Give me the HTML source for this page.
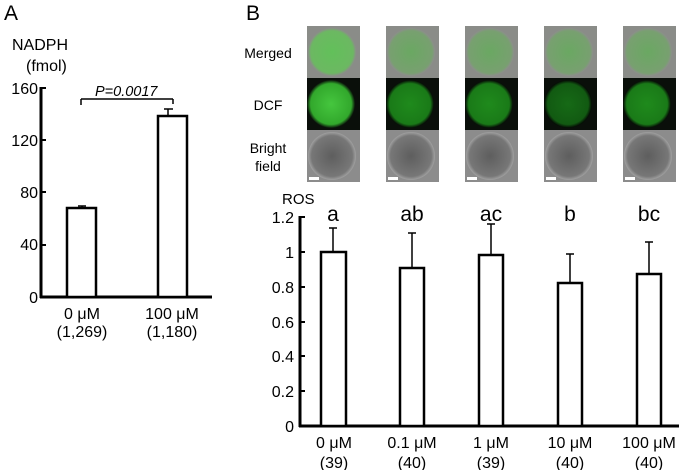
<!DOCTYPE html>
<html><head><meta charset="utf-8"><style>
html,body{margin:0;padding:0;background:#fff;width:685px;height:470px;overflow:hidden}
svg{display:block;font-family:"Liberation Sans",Arial,sans-serif}
</style></head><body>
<svg width="685" height="470" viewBox="0 0 685 470" xmlns="http://www.w3.org/2000/svg">
<defs>
<radialGradient id="gm" cx="50%" cy="50%" r="50%"><stop offset="0" stop-color="#62c05a"/><stop offset="0.88" stop-color="#6cb862"/><stop offset="1" stop-color="#8a8f88"/></radialGradient>
<radialGradient id="gm2" cx="50%" cy="50%" r="50%"><stop offset="0" stop-color="#6aa862"/><stop offset="0.88" stop-color="#78a070"/><stop offset="1" stop-color="#8c8f8b"/></radialGradient>
<radialGradient id="gd1" cx="50%" cy="50%" r="50%"><stop offset="0" stop-color="#45c63e"/><stop offset="0.85" stop-color="#32a82c"/><stop offset="1" stop-color="#0a150a"/></radialGradient>
<radialGradient id="gd2" cx="50%" cy="50%" r="50%"><stop offset="0" stop-color="#1f8a1c"/><stop offset="0.85" stop-color="#1a7a18"/><stop offset="1" stop-color="#050a05"/></radialGradient>
<radialGradient id="gd3" cx="50%" cy="50%" r="50%"><stop offset="0" stop-color="#166a16"/><stop offset="0.85" stop-color="#125a12"/><stop offset="1" stop-color="#040804"/></radialGradient>
<radialGradient id="gb" cx="50%" cy="50%" r="50%"><stop offset="0" stop-color="#5e5e5e"/><stop offset="0.85" stop-color="#777"/><stop offset="1" stop-color="#a0a0a0"/></radialGradient>
</defs>
<text x="4" y="20" font-size="21">A</text>
<text x="246" y="20" font-size="21">B</text>
<!-- Panel A -->
<text x="12" y="50" font-size="16">NADPH</text>
<text x="26" y="71" font-size="16">(fmol)</text>
<g font-size="16" text-anchor="end">
<text x="38" y="94">160</text><text x="38" y="146">120</text><text x="38" y="198">80</text><text x="38" y="250">40</text><text x="38" y="303">0</text>
</g>
<g stroke="#000" stroke-width="3" fill="none">
<line x1="41" y1="87" x2="41" y2="298"/><line x1="40" y1="297" x2="212" y2="297"/>
</g>
<g stroke="#000" stroke-width="2">
<line x1="41" y1="88" x2="46" y2="88"/><line x1="41" y1="140" x2="46" y2="140"/><line x1="41" y1="192" x2="46" y2="192"/><line x1="41" y1="245" x2="46" y2="245"/>
</g>
<g stroke="#000" stroke-width="1.5"><line x1="82" y1="208" x2="82" y2="206"/><line x1="78" y1="206" x2="86" y2="206"/></g>
<g stroke="#000" stroke-width="2.5" fill="#fff">
<rect x="67" y="208" width="29" height="89"/><rect x="158" y="116" width="29" height="181"/>
</g>
<g stroke="#000" stroke-width="1.5" fill="none">
<line x1="168" y1="116" x2="168" y2="109"/><line x1="164" y1="109" x2="173" y2="109"/>
<line x1="81" y1="105" x2="81" y2="99"/><line x1="81" y1="99" x2="173" y2="99"/><line x1="173" y1="99" x2="173" y2="104"/>
</g>
<text x="95" y="96" font-size="14.5" font-style="italic">P=0.0017</text>
<g font-size="16" text-anchor="middle">
<text x="82" y="319">0 μM</text><text x="82" y="337">(1,269)</text>
<text x="172" y="319">100 μM</text><text x="172" y="337">(1,180)</text>
</g>
<!-- Images -->
<g font-size="14" text-anchor="middle">
<text x="268" y="58">Merged</text><text x="268" y="110">DCF</text>
<text x="268" y="153">Bright</text><text x="268" y="171">field</text>
</g>
<g>
<rect x="307" y="26" width="53" height="52" fill="#8a8c88"/><circle cx="332" cy="52" r="24" fill="url(#gm)"/>
<rect x="307" y="78" width="53" height="52" fill="#0a0f0a"/><circle cx="331" cy="104" r="24" fill="url(#gd1)"/>
<rect x="307" y="130" width="53" height="52" fill="#8c8c8c"/><circle cx="332" cy="156" r="24" fill="url(#gb)"/>
<rect x="386" y="26" width="53" height="52" fill="#8a8c88"/><circle cx="411" cy="52" r="24" fill="url(#gm2)"/>
<rect x="386" y="78" width="53" height="52" fill="#0a0f0a"/><circle cx="410" cy="104" r="24" fill="url(#gd2)"/>
<rect x="386" y="130" width="53" height="52" fill="#8c8c8c"/><circle cx="411" cy="156" r="24" fill="url(#gb)"/>
<rect x="465" y="26" width="53" height="52" fill="#8a8c88"/><circle cx="490" cy="52" r="24" fill="url(#gm2)"/>
<rect x="465" y="78" width="53" height="52" fill="#0a0f0a"/><circle cx="489" cy="104" r="24" fill="url(#gd2)"/>
<rect x="465" y="130" width="53" height="52" fill="#8c8c8c"/><circle cx="490" cy="156" r="24" fill="url(#gb)"/>
<rect x="544" y="26" width="53" height="52" fill="#8a8c88"/><circle cx="569" cy="52" r="24" fill="url(#gm2)"/>
<rect x="544" y="78" width="53" height="52" fill="#0a0f0a"/><circle cx="568" cy="104" r="24" fill="url(#gd3)"/>
<rect x="544" y="130" width="53" height="52" fill="#8c8c8c"/><circle cx="569" cy="156" r="24" fill="url(#gb)"/>
<rect x="623" y="26" width="53" height="52" fill="#8a8c88"/><circle cx="648" cy="52" r="24" fill="url(#gm2)"/>
<rect x="623" y="78" width="53" height="52" fill="#0a0f0a"/><circle cx="647" cy="104" r="24" fill="url(#gd2)"/>
<rect x="623" y="130" width="53" height="52" fill="#8c8c8c"/><circle cx="648" cy="156" r="24" fill="url(#gb)"/>
<g fill="#fff"><rect x="309" y="177" width="10" height="3"/><rect x="388" y="177" width="10" height="3"/><rect x="467" y="177" width="10" height="3"/><rect x="546" y="177" width="10" height="3"/><rect x="625" y="177" width="10" height="3"/></g>
</g>
<!-- Panel B chart -->
<text x="282" y="204" font-size="15">ROS</text>
<g font-size="16" text-anchor="end">
<text x="294" y="223">1.2</text><text x="294" y="258">1</text><text x="294" y="293">0.8</text><text x="294" y="328">0.6</text><text x="294" y="362">0.4</text><text x="294" y="397">0.2</text><text x="294" y="432">0</text>
</g>
<g stroke="#000" stroke-width="3" fill="none">
<line x1="300" y1="216" x2="300" y2="427"/><line x1="299" y1="426" x2="679" y2="426"/>
</g>
<g stroke="#000" stroke-width="2">
<line x1="300" y1="217" x2="305" y2="217"/><line x1="300" y1="252" x2="305" y2="252"/><line x1="300" y1="287" x2="305" y2="287"/><line x1="300" y1="322" x2="305" y2="322"/><line x1="300" y1="356" x2="305" y2="356"/><line x1="300" y1="391" x2="305" y2="391"/>
</g>
<g stroke="#000" stroke-width="1.5">
<line x1="333" y1="252" x2="333" y2="228"/><line x1="329" y1="228" x2="337" y2="228"/>
<line x1="412" y1="268" x2="412" y2="233"/><line x1="408" y1="233" x2="416" y2="233"/>
<line x1="491" y1="255" x2="491" y2="224"/><line x1="487" y1="224" x2="495" y2="224"/>
<line x1="570" y1="283" x2="570" y2="254"/><line x1="566" y1="254" x2="574" y2="254"/>
<line x1="649" y1="274" x2="649" y2="242"/><line x1="645" y1="242" x2="653" y2="242"/>
</g>
<g stroke="#000" stroke-width="2.5" fill="#fff">
<rect x="321" y="252" width="25" height="174"/>
<rect x="400" y="268" width="24" height="158"/>
<rect x="479" y="255" width="24" height="171"/>
<rect x="558" y="283" width="24" height="143"/>
<rect x="637" y="274" width="24" height="152"/>
</g>
<g font-size="21" text-anchor="middle">
<text x="333" y="221">a</text><text x="412" y="221">ab</text><text x="491" y="221">ac</text><text x="570" y="221">b</text><text x="649" y="221">bc</text>
</g>
<g font-size="16" text-anchor="middle">
<text x="334" y="448">0 μM</text><text x="334" y="468">(39)</text>
<text x="412" y="448">0.1 μM</text><text x="412" y="468">(40)</text>
<text x="491" y="448">1 μM</text><text x="491" y="468">(39)</text>
<text x="570" y="448">10 μM</text><text x="570" y="468">(40)</text>
<text x="649" y="448">100 μM</text><text x="649" y="468">(40)</text>
</g>
</svg>
</body></html>
